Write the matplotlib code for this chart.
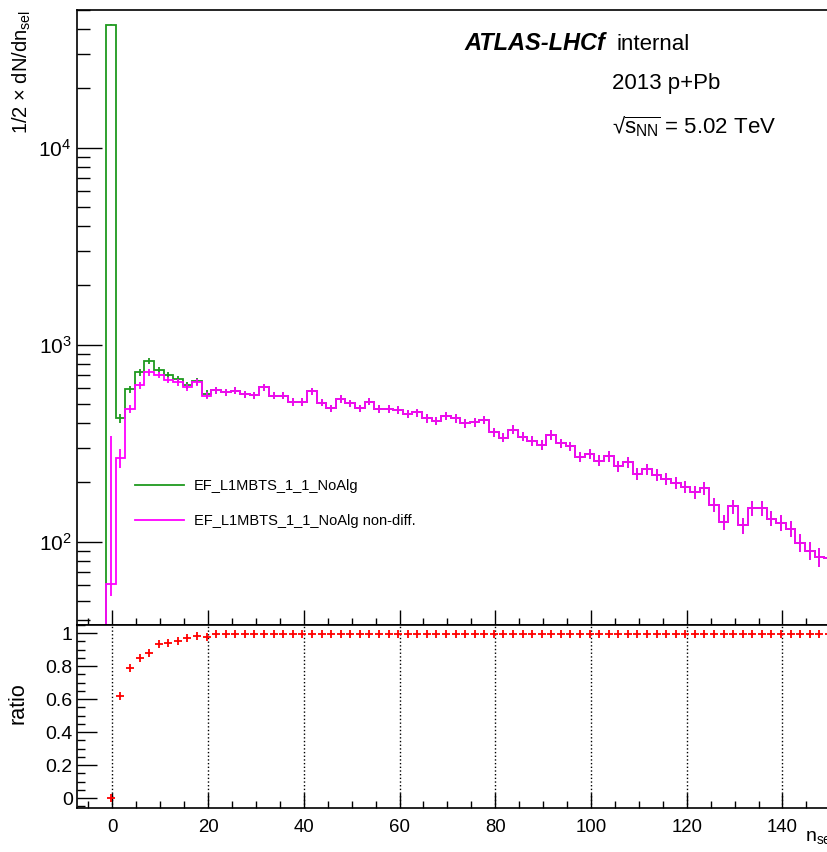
import numpy as np
import matplotlib
matplotlib.use("Agg")
import matplotlib.pyplot as plt
from matplotlib.lines import Line2D
from matplotlib.ticker import MultipleLocator, LogLocator, NullFormatter, FuncFormatter

plt.rcParams["font.family"] = ["Liberation Sans", "DejaVu Sans"]
plt.rcParams["mathtext.fontset"] = "custom"
plt.rcParams["mathtext.rm"] = "Liberation Sans"
plt.rcParams["mathtext.it"] = "Liberation Sans:italic"
plt.rcParams["mathtext.bf"] = "Liberation Sans:bold"

# n_sel binning (2 units per bin, first bin just below zero)
bin_lo = -1.3
bin_w = 2.0
n_bins = 76

# 1/2 x dN/dn_sel, EF_L1MBTS_1_1_NoAlg
trig = [42100, 423, 596, 723, 823, 744, 702, 670, 624, 651,
        563, 589, 573, 584, 562, 555, 607, 551, 551, 514,
        514, 579, 509, 475, 530, 504, 475, 515, 472, 472,
        466, 445, 453, 423, 411, 436, 423, 400, 403, 415,
        359, 338, 370, 342, 326, 310, 349, 316, 305, 270,
        279, 258, 271, 241, 253, 221, 234, 219, 208, 199,
        190, 179, 187, 154, 126, 151, 121, 148, 148, 131,
        125, 116, 99, 90, 84, 83]

# same trigger, non-diffractive selection
trig_nd = [61, 266, 472, 624, 723, 702, 662, 644, 607, 644,
           551, 589, 573, 584, 562, 555, 607, 551, 551, 514,
           514, 579, 509, 475, 530, 504, 475, 515, 472, 472,
           466, 445, 453, 423, 411, 436, 423, 400, 403, 415,
           359, 338, 370, 342, 326, 310, 349, 316, 305, 270,
           279, 258, 271, 241, 253, 221, 234, 219, 208, 199,
           190, 179, 187, 154, 126, 151, 121, 148, 148, 131,
           125, 116, 99, 90, 84, 83]

# non-diff. / all, read from the lower pad
ratio = [0.0, 0.622, 0.79, 0.848, 0.882, 0.933, 0.939, 0.953, 0.973, 0.985,
         0.978, 0.996, 0.996, 0.996, 0.996, 0.996, 0.996, 0.996, 0.996, 0.996,
         0.996, 0.996, 0.996, 0.996, 0.996, 0.996, 0.996, 0.996, 0.996, 0.996,
         0.996, 0.996, 0.996, 0.996, 0.996, 0.996, 0.996, 0.996, 0.996, 0.996,
         0.996, 0.996, 0.996, 0.996, 0.996, 0.996, 0.996, 0.996, 0.996, 0.996,
         0.996, 0.996, 0.996, 0.996, 0.996, 0.996, 0.996, 0.996, 0.996, 0.996,
         0.996, 0.996, 0.996, 0.996, 0.996, 0.996, 0.996, 0.996, 0.996, 0.996,
         0.996, 0.996, 0.996, 0.996, 0.996, 0.996]

labels = ["EF_L1MBTS_1_1_NoAlg", "EF_L1MBTS_1_1_NoAlg non-diff."]

GREEN = "#1f9a1f"
MAGENTA = "#ff00ff"


def stat_err(vals):
    v = np.asarray(vals, dtype=float)
    err = np.sqrt(v)
    lo = np.minimum(err, v * 0.999)
    return v, np.vstack([lo, err])


def main():
    edges = bin_lo + bin_w * np.arange(n_bins + 1)
    centers = 0.5 * (edges[:-1] + edges[1:])

    W, H = 827, 852
    fig = plt.figure(figsize=(W / 100, H / 100), dpi=100)

    def box(l, t, r, b):
        return [l / W, 1 - b / H, (r - l) / W, (b - t) / H]

    ax = fig.add_axes(box(77, 10, 827, 625))
    ax2 = fig.add_axes(box(77, 625, 827, 808), sharex=ax)

    # upper pad
    v, e = stat_err(trig)
    ax.stairs(v, edges, baseline=1, color=GREEN, lw=1.3)
    ax.errorbar(centers, v, yerr=e, fmt="none", ecolor=GREEN, elinewidth=1.3)

    v, e = stat_err(trig_nd)
    e[1, 0] = 285   # weighted first bins have large errors
    e[:, 1] = 30
    e[0] = np.minimum(e[0], v * 0.999)
    ax.stairs(v, edges, baseline=1, color=MAGENTA, lw=1.3)
    ax.errorbar(centers, v, yerr=e, fmt="none", ecolor=MAGENTA, elinewidth=1.3)

    ax.set_yscale("log")
    ax.set_ylim(37.8, 5.0e4)
    ax.set_xlim(-7.38, 149.3)
    ax.yaxis.set_major_locator(LogLocator(base=10))
    ax.yaxis.set_minor_locator(LogLocator(base=10, subs=np.arange(2, 10)))
    ax.yaxis.set_minor_formatter(NullFormatter())
    ax.xaxis.set_major_locator(MultipleLocator(20))
    ax.xaxis.set_minor_locator(MultipleLocator(5))
    ax.tick_params(axis="x", which="both", direction="in", top=False,
                   labelbottom=False, width=1)
    ax.tick_params(axis="x", which="major", length=10.8)
    ax.tick_params(axis="x", which="minor", length=5)
    ax.tick_params(axis="y", which="both", direction="in", right=False,
                   labelsize=15, pad=4, width=1)
    ax.tick_params(axis="y", which="major", length=18)
    ax.tick_params(axis="y", which="minor", length=9.4)
    ax.spines["right"].set_visible(False)
    for s in ax.spines.values():
        s.set_linewidth(1.2)

    handles = [Line2D([], [], color=GREEN, lw=1.3),
               Line2D([], [], color=MAGENTA, lw=1.3)]
    ax.legend(handles, labels, loc="upper left", bbox_to_anchor=(0.0773, 0.237),
              frameon=False, fontsize=10.5, handlelength=3.36, handletextpad=0.68,
              labelspacing=1.45, borderpad=0, borderaxespad=0)

    # lower pad
    ax2.plot(centers, ratio, ls="none", marker="+", ms=6, mew=1.3, color="red",
             clip_on=True)
    ax2.set_ylim(-0.06, 1.05)
    ax2.yaxis.set_major_locator(MultipleLocator(0.2))
    ax2.yaxis.set_minor_locator(MultipleLocator(0.05))
    ax2.yaxis.set_major_formatter(FuncFormatter(lambda y, p: f"{y:g}"))
    ax2.xaxis.grid(True, which="major", ls=":", color="black", lw=1)
    ax2.tick_params(axis="x", which="both", direction="in", top=False,
                    labelsize=13.4, pad=8, width=1)
    ax2.tick_params(axis="x", which="major", length=10.8)
    ax2.tick_params(axis="x", which="minor", length=5)
    ax2.tick_params(axis="y", which="both", direction="in", right=False,
                    labelsize=14, pad=3, width=1)
    ax2.tick_params(axis="y", which="major", length=14.4)
    ax2.tick_params(axis="y", which="minor", length=5.8)
    ax2.spines["right"].set_visible(False)
    for s in ax2.spines.values():
        s.set_linewidth(1.2)

    # axis titles
    fig.text(22 / W, 1 - 10 / H, "1/2 × dN/dn$_{\\mathrm{sel}}$", rotation=90,
             ha="center", va="top", fontsize=14.5)
    fig.text(18 / W, 1 - 703 / H, "ratio", rotation=90, ha="center",
             va="center", fontsize=15.5)
    fig.text(805 / W, 1 - 838 / H, "n$_{\\mathrm{sel}}$", ha="left",
             va="center", fontsize=14)

    # labels
    fig.text(605 / W, 1 - 44 / H, "ATLAS-LHCf", ha="right", va="center",
             fontsize=17, fontweight="bold", fontstyle="italic")
    fig.text(616 / W, 1 - 44 / H, "internal", ha="left", va="center", fontsize=16)
    fig.text(612 / W, 1 - 84 / H, "2013 p+Pb", ha="left", va="center", fontsize=16)
    fig.text(612 / W, 1 - 127 / H,
             "√$\\overline{\\mathrm{s}_{\\mathrm{NN}}}$ = 5.02 TeV",
             ha="left", va="center", fontsize=16)

    fig.savefig("out.png", dpi=100)


if __name__ == "__main__":
    main()
